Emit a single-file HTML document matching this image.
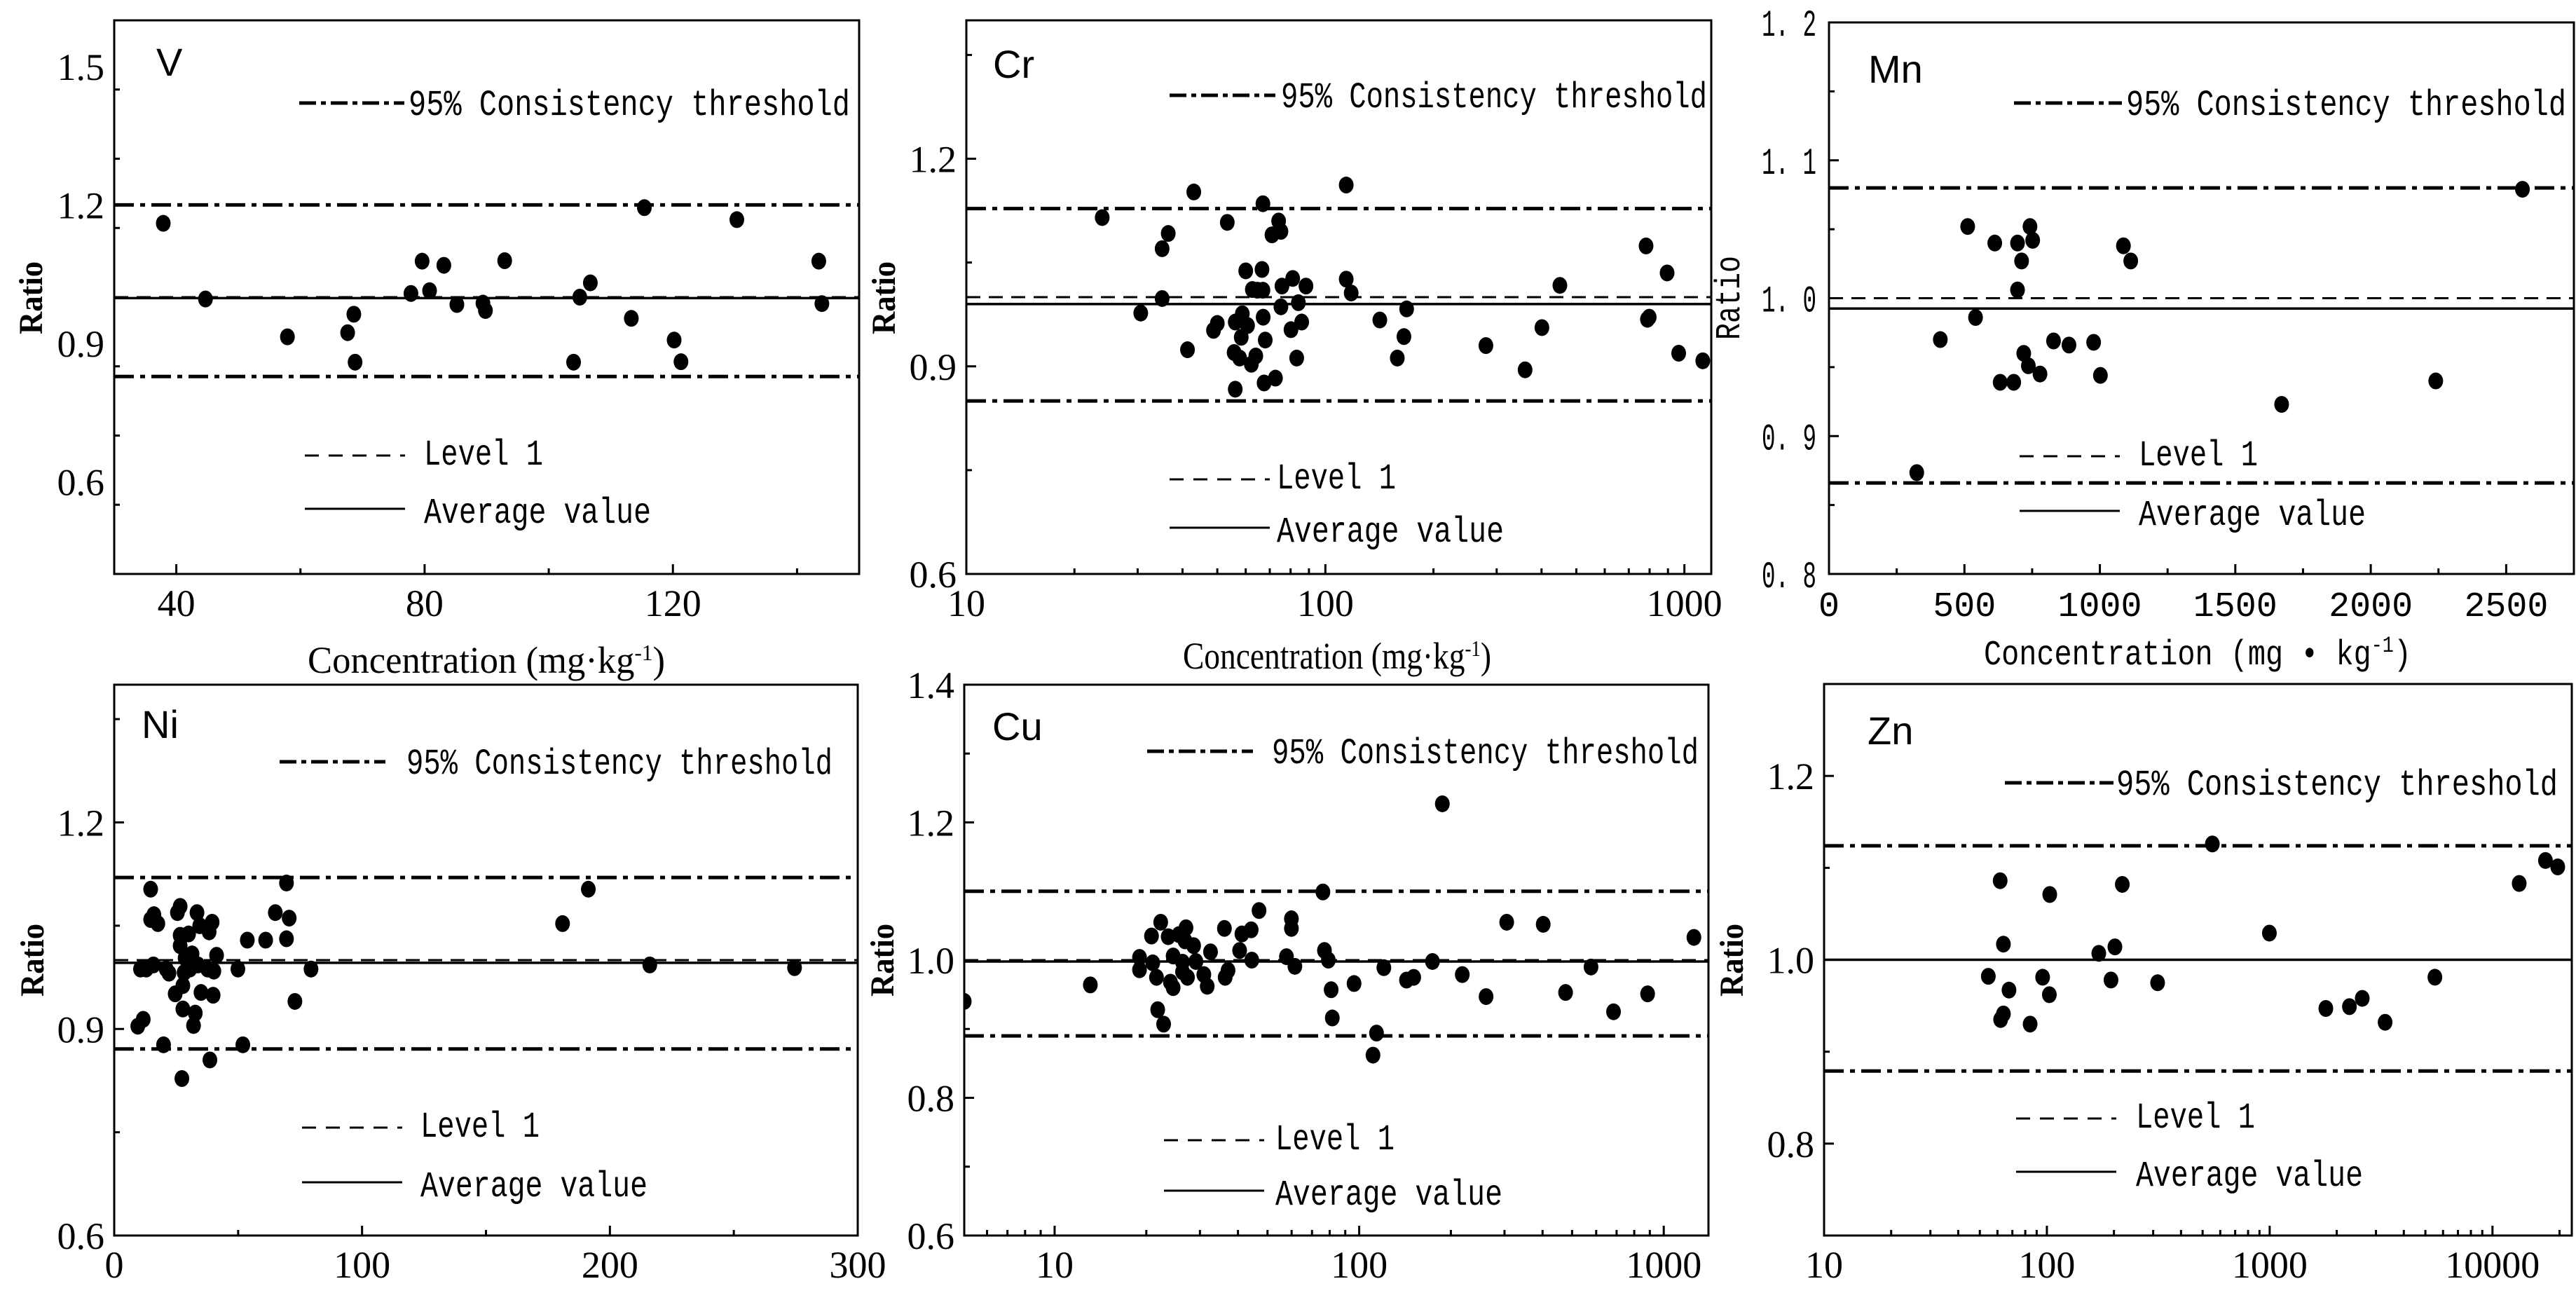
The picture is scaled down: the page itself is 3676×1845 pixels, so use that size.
<!DOCTYPE html>
<html><head><meta charset="utf-8"><title>Ratio vs Concentration</title>
<style>
html,body{margin:0;padding:0;background:#fff;}
svg{display:block;}
</style></head>
<body>
<svg id="chart" xmlns="http://www.w3.org/2000/svg" width="3676" height="1845" viewBox="0 0 3676 1845"></svg>
<script>
// ---------- DATA ----------
const vX=[37.9,44.7,57.9,67.6,68.6,68.8,77.8,79.6,80.8,83.1,85.2,89.4,89.8,92.9,104.0,105.0,106.7,113.3,115.4,120.2,121.3,130.3,143.5,144.0];
const vY=[1.16,0.996,0.914,0.923,0.963,0.859,1.008,1.078,1.014,1.069,0.984,0.987,0.971,1.079,0.859,1.0,1.031,0.954,1.194,0.907,0.86,1.168,1.078,0.986];
const vLines=[1.2,0.828,1.0,0.998];

const crX=[23.9,30.6,35.1,35.1,36.5,41.3,43.0,48.8,50.0,53.3,55.7,56.1,56.1,57.7,58.3,58.7,60.0,60.7,62.2,62.6,64.0,64.7,66.6,67.0,67.0,67.1,68.0,67.5,71.0,72.6,74.1,75.2,75.7,75.2,80.2,81.1,83.2,84.1,85.9,88.3,114.3,114.3,118.0,141.8,158.6,165.5,168.4,280,360,401,450,782,789,798,895,964,1125];
const crY=[1.115,0.977,1.070,0.998,1.092,0.924,1.152,0.952,0.962,1.108,0.920,0.867,0.964,0.912,0.942,0.976,1.038,0.959,0.903,1.011,0.915,1.010,1.040,1.135,1.010,0.971,0.938,0.876,1.090,0.883,1.110,1.095,1.016,0.986,0.953,1.027,0.912,0.992,0.964,1.016,1.162,1.026,1.006,0.967,0.912,0.943,0.983,0.930,0.895,0.956,1.017,1.074,0.968,0.971,1.035,0.919,0.908];
const crLines=[1.128,0.850,1.0,0.99];

const mnX=[512,541,411,324,612,632,682,696,696,711,719,736,742,752,779,829,886,977,1002,1087,1114,1671,2240,2560];
const mnY=[1.052,0.986,0.970,0.8735,1.040,0.939,0.939,1.040,1.006,1.027,0.960,0.951,1.052,1.042,0.945,0.969,0.966,0.968,0.944,1.038,1.027,0.923,0.940,1.079];
const mnLines=[1.080,0.866,1.0,0.9925];

const niX=[9.5,11.7,10.6,12.9,14.7,14.7,16.0,17.6,15.8,19.9,21.0,22.1,24.6,25.5,26.6,26.6,26.6,27.3,27.7,27.7,28.2,28.6,30.0,30.5,31.4,32.0,32.7,33.4,33.8,34.5,35.0,37.7,38.3,38.6,39.5,39.9,40.2,41.3,49.9,51.9,53.7,61.1,65.0,69.5,69.5,70.6,72.9,79.4,180.9,191.3,216.1,274.5];
const niY=[0.904,0.914,0.987,0.987,1.103,1.059,1.066,1.053,0.993,0.877,0.987,0.981,0.951,1.069,1.078,1.036,1.021,0.828,0.929,0.963,0.982,1.003,1.038,0.987,1.009,0.905,0.923,1.069,0.993,1.050,0.953,0.987,1.041,0.855,1.055,0.949,0.984,1.007,0.987,0.877,1.029,1.029,1.069,1.112,1.031,1.061,0.940,0.987,1.053,1.103,0.993,0.989];
const niLines=[1.120,0.871,1.0,0.996];

const cuX=[13.1,19.0,19.0,20.8,21.0,21.6,21.8,22.3,22.8,23.6,24.0,24.5,24.5,25.6,26.3,26.3,26.8,27.0,27.3,28.6,29.1,30.9,31.7,32.5,36.1,36.3,37.1,40.5,41.2,44.2,44.4,46.9,57.7,59.9,59.9,61.5,76.0,76.9,79.2,80.9,81.6,96.2,114,111,120.5,143,151,174,187.5,218,261,305,402,476,577,684,885,1256,5.05];
const cuY=[0.964,1.004,0.986,1.035,0.996,0.975,0.928,1.055,0.907,1.034,0.968,0.960,1.006,1.037,0.997,0.983,1.028,1.047,0.975,1.021,0.998,0.979,0.962,1.012,1.046,0.975,0.985,1.014,1.038,1.044,1.000,1.072,1.005,1.060,1.046,0.991,1.099,1.014,1.000,0.957,0.916,0.966,0.894,0.862,0.989,0.971,0.975,0.998,1.227,0.979,0.947,1.055,1.052,0.953,0.990,0.925,0.951,1.033,0.940];
const cuLines=[1.100,0.890,1.0,0.998];

const znX=[54.6,61.7,63.8,67.6,63.8,62.0,84.1,95.7,102.6,103,171,194,202,218,314,553,997,1787,2280,2603,3297,5515,13180,17290,19630];
const znY=[0.982,1.086,1.017,0.967,0.941,0.935,0.930,0.981,0.962,1.071,1.007,0.978,1.014,1.082,0.975,1.126,1.029,0.947,0.949,0.958,0.932,0.981,1.083,1.108,1.101];
const znLines=[1.124,0.879,1.0,1.0];

// tick labels
const vXTicks=[40,80,120], vYTicks=[0.6,0.9,1.2,1.5];
const crXTicks=[10,100,1000], crYTicks=[0.6,0.9,1.2];
const mnXTicks=[0,500,1000,1500,2000,2500], mnYTicks=[0.8,0.9,1.0,1.1,1.2];
const niXTicks=[0,100,200,300], niYTicks=[0.6,0.9,1.2];
const cuXTicks=[10,100,1000], cuYTicks=[0.6,0.8,1.0,1.2,1.4];
const znXTicks=[10,100,1000,10000], znYTicks=[0.8,1.0,1.2];

// ---------- DRAW ----------
const NS='http://www.w3.org/2000/svg';
const svg=document.getElementById('chart');
function mk(tag,attrs,parent,text){const e=document.createElementNS(NS,tag);for(const k in attrs)e.setAttribute(k,attrs[k]);if(text!==undefined)e.textContent=text;(parent||svg).appendChild(e);return e;}
const SERIF='"Liberation Serif", serif', MONO='"Liberation Mono", "Noto Sans CJK SC", monospace', SANS='"Liberation Sans", sans-serif';
const TH_DASH='28 9 7 9', L1_DASH='20 12';

function panel(c){
  const g=mk('g',{});
  
  
  const L=c.left,R=c.right,T=c.top,B=c.bottom;
  const lg=c.log;
  const tx=v=>lg?Math.log10(v):v;
  const sx=v=>L+(tx(v)-tx(c.xmin))/(tx(c.xmax)-tx(c.xmin))*(R-L);
  const sy=v=>B-(v-c.ymin)/(c.ymax-c.ymin)*(B-T);
  const cid='clip-'+c.id;
  const cp=mk('clipPath',{id:cid},g); mk('rect',{x:L,y:T,width:R-L,height:B-T},cp);
  const lines=c.lines;
  const up=mk('line',{x1:L,x2:R,y1:sy(lines[0]),y2:sy(lines[0]),stroke:'#000','stroke-width':5,'stroke-dasharray':TH_DASH},g);
  
  
  const lo=mk('line',{x1:L,x2:R,y1:sy(lines[1]),y2:sy(lines[1]),stroke:'#000','stroke-width':5,'stroke-dasharray':TH_DASH},g);
  
  
  const lv=mk('line',{x1:L,x2:R,y1:sy(lines[2]),y2:sy(lines[2]),stroke:'#000','stroke-width':3,'stroke-dasharray':L1_DASH},g);
  
  
  const av=mk('line',{x1:L,x2:R,y1:sy(lines[3]),y2:sy(lines[3]),stroke:'#000','stroke-width':3.5},g);
  
  
  const pg=mk('g',{'clip-path':'url(#'+cid+')'},g);
  
  
  for(let i=0;i<c.xs.length;i++){
    const p=mk('ellipse',{cx:sx(c.xs[i]),cy:sy(c.ys[i]),rx:10.5,ry:12,fill:'#000'},pg);
    
    
  }
  const fr=mk('rect',{x:L,y:T,width:R-L,height:B-T,fill:'none',stroke:'#000','stroke-width':3},g);
  
  
  for(let v=c.ymin; v<=c.ymax+1e-9; v+=c.yMin){
    const isMaj=c.yTicks.some(t=>Math.abs(t-v)<1e-6);
    mk('line',{x1:L,x2:L+(isMaj?14:8),y1:sy(v),y2:sy(v),stroke:'#000','stroke-width':3},g);
  }
  c.yTicks.forEach(v=>{
    let t;
    if(c.mono){
      t=mk('text',{x:L-18,y:sy(v)+19,'text-anchor':'end','font-family':MONO,'font-size':54,textLength:78,lengthAdjust:'spacingAndGlyphs'},g,v.toFixed(1).replace('.','. '));
    } else {
      t=mk('text',{x:L-14,y:sy(v)+19,'text-anchor':'end','font-family':SERIF,'font-size':54},g,v.toFixed(1));
    }
    
    
  });
  if(lg){
    const d0=Math.floor(Math.log10(c.xmin)), d1=Math.ceil(Math.log10(c.xmax));
    for(let d=d0; d<=d1; d++) for(let k=1;k<=9;k++){
      const v=k*Math.pow(10,d);
      if(v<c.xmin*0.999||v>c.xmax) continue;
      mk('line',{x1:sx(v),x2:sx(v),y1:B,y2:B-(k===1?14:8),stroke:'#000','stroke-width':3},g);
    }
  } else {
    for(let v=c.xmin+((c.xMinStart||0)); v<=c.xmax+1e-9; v+=c.xMin){
      const isMaj=c.xTicks.some(t=>Math.abs(t-v)<1e-6);
      mk('line',{x1:sx(v),x2:sx(v),y1:B,y2:B-(isMaj?14:8),stroke:'#000','stroke-width':3},g);
    }
  }
  c.xTicks.forEach(v=>{
    const t=mk('text',{x:sx(v),y:B+60,'text-anchor':'middle','font-family':c.mono?MONO:SERIF,'font-size':c.mono?50:54},g,String(v));
    
    
  });
  const nm=mk('text',{x:c.nameX,y:c.nameY,'font-family':SANS,'font-size':56},g,c.name);
  
  
  const lgd=c.legend;
  const g2=mk('g',{},g);
  
  
  mk('line',{x1:L+lgd.thX0,x2:L+lgd.thX1,y1:lgd.ty,y2:lgd.ty,stroke:'#000','stroke-width':5,'stroke-dasharray':'24 7 7 7'},g2);
  const t1=mk('text',{x:L+lgd.thT,y:lgd.ty+17,'font-family':MONO,'font-size':52,textLength:lgd.thW,lengthAdjust:'spacingAndGlyphs'},g2,'95% Consistency threshold');
  
  
  mk('line',{x1:L+lgd.l1X,x2:L+lgd.l1X+143,y1:lgd.l1y+4,y2:lgd.l1y+4,stroke:'#000','stroke-width':3,'stroke-dasharray':'20 14'},g2);
  const t2=mk('text',{x:L+lgd.l1T,y:lgd.l1y+17,'font-family':MONO,'font-size':52,textLength:170,lengthAdjust:'spacingAndGlyphs'},g2,'Level 1');
  
  
  mk('line',{x1:L+lgd.l1X,x2:L+lgd.l1X+143,y1:lgd.avy-3,y2:lgd.avy-3,stroke:'#000','stroke-width':3},g2);
  const t3=mk('text',{x:L+lgd.l1T,y:lgd.avy+17,'font-family':MONO,'font-size':52,textLength:324,lengthAdjust:'spacingAndGlyphs'},g2,'Average value');
  
  
  const rt=mk('text',{x:c.ratioX,y:c.ratioY,'text-anchor':'middle','font-family':c.mono?MONO:SERIF,'font-size':c.mono?50:48,'font-weight':c.mono?'normal':'bold',textLength:c.mono?120:104,lengthAdjust:'spacingAndGlyphs',transform:'rotate(-90 '+c.ratioX+' '+c.ratioY+')'},g,'Ratio');
  
  
  if(c.xTitle){
    const xt=mk('text',{x:c.xTitle.x,y:c.xTitle.y,'text-anchor':'middle','font-family':c.mono?MONO:SERIF,'font-size':c.mono?50:54,textLength:c.xTitle.w,lengthAdjust:'spacingAndGlyphs'},g);
    
    
    const a=document.createElementNS(NS,'tspan'); a.textContent=c.mono?'Concentration (mg \u2022 kg':'Concentration (mg\u00b7kg'; xt.appendChild(a);
    const s=document.createElementNS(NS,'tspan'); s.setAttribute('dy','-18'); s.setAttribute('font-size','32'); s.textContent='-1'; xt.appendChild(s);
    const e=document.createElementNS(NS,'tspan'); e.setAttribute('dy','18'); e.textContent=')'; xt.appendChild(e);
  }
}

panel({id:'v',name:'V',left:163,right:1226,top:29,bottom:819,log:false,xmin:30,xmax:150,xMin:20,xMinStart:10,ymin:0.4,ymax:1.6,yMaj:0.3,yMin:0.15,
  xTicks:vXTicks,yTicks:vYTicks,xs:vX,ys:vY,lines:vLines,nameX:223,nameY:108,ratioX:60,ratioY:425,
  legend:{thX0:264,thX1:414,thT:420,thW:630,ty:147,l1X:272,l1T:442,l1y:646,avy:729},xTitle:{x:694,y:960,w:510}});
panel({id:'cr',name:'Cr',left:1379,right:2442,top:29,bottom:819,log:true,xmin:10,xmax:1188,ymin:0.6,ymax:1.4,yMaj:0.3,yMin:0.15,
  xTicks:crXTicks,yTicks:crYTicks,xs:crX,ys:crY,lines:crLines,nameX:1417,nameY:111,ratioX:1277,ratioY:425,
  legend:{thX0:290,thX1:441,thT:449,thW:608,ty:136,l1X:290,l1T:443,l1y:680,avy:756},xTitle:{x:1908,y:954,w:440}});
panel({id:'mn',name:'Mn',mono:true,left:2610,right:3673,top:32,bottom:819,log:false,xmin:0,xmax:2750,xMin:250,ymin:0.8,ymax:1.2,yMaj:0.1,yMin:0.05,
  xTicks:mnXTicks,yTicks:mnYTicks,xs:mnX,ys:mnY,lines:mnLines,nameX:2666,nameY:118,ratioX:2482,ratioY:425,
  legend:{thX0:264,thX1:418,thT:424,thW:628,ty:147,l1X:272,l1T:442,l1y:647,avy:732},xTitle:{x:3136,y:948,w:610}});
panel({id:'ni',name:'Ni',left:163,right:1224,top:977,bottom:1763,log:false,xmin:0,xmax:300,xMin:50,ymin:0.6,ymax:1.4,yMaj:0.3,yMin:0.15,
  xTicks:niXTicks,yTicks:niYTicks,xs:niX,ys:niY,lines:niLines,nameX:202,nameY:1053,ratioX:62,ratioY:1370,
  legend:{thX0:236,thX1:387,thT:417,thW:608,ty:1087,l1X:268,l1T:437,l1y:1605,avy:1690}});
panel({id:'cu',name:'Cu',left:1376,right:2438,top:977,bottom:1763,log:true,xmin:5.05,xmax:1402,ymin:0.6,ymax:1.4,yMaj:0.2,yMin:0.1,
  xTicks:cuXTicks,yTicks:cuYTicks,xs:cuX,ys:cuY,lines:cuLines,nameX:1416,nameY:1056,ratioX:1275,ratioY:1370,
  legend:{thX0:261,thX1:412,thT:439,thW:609,ty:1072,l1X:285,l1T:444,l1y:1623,avy:1702}});
panel({id:'zn',name:'Zn',left:2603,right:3670,top:976,bottom:1763,log:true,xmin:10,xmax:22700,ymin:0.7,ymax:1.3,yMaj:0.2,yMin:0.1,
  xTicks:znXTicks,yTicks:znYTicks,xs:znX,ys:znY,lines:znLines,nameX:2665,nameY:1062,ratioX:2487,ratioY:1370,
  legend:{thX0:258,thX1:413,thT:417,thW:630,ty:1117,l1X:274,l1T:445,l1y:1592,avy:1675}});
</script>
</body></html>
